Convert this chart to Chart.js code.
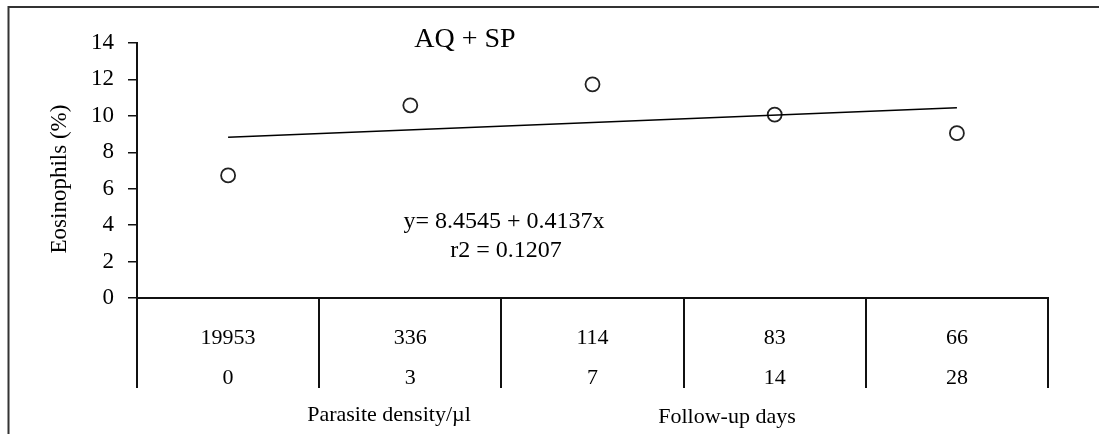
<!DOCTYPE html>
<html>
<head>
<meta charset="utf-8">
<script src="https://cdn.jsdelivr.net/npm/chart.js@4"></script>
<style>
  html, body { margin: 0; padding: 0; background: #fff; }
  #wrap { width: 1099px; height: 434px; }
</style>
</head>
<body>
<div id="wrap"><canvas id="chart"></canvas></div>
<script>
// table rows under the axis
const parasiteDensity = ['19953', '336', '114', '83', '66'];
const followUpDays = ['0', '3', '7', '14', '28'];

// eosinophils (%) per visit
const eosinophils = [6.73, 10.58, 11.73, 10.07, 9.05];

// regression line, read at first and last visit
const trendLine = [8.83, null, null, null, 10.45];

const yTicks = [0, 2, 4, 6, 8, 10, 12, 14];

const FONT = '"Liberation Serif", "Times New Roman", serif';

const labels = parasiteDensity.map((d, i) => [d, followUpDays[i]]);

// frame and free texts
const textPlugin = {
    id: 'texts',
    beforeDraw(chart) {
        const ctx = chart.ctx;
        ctx.save();
        ctx.strokeStyle = '#333';
        ctx.lineWidth = 2;
        ctx.beginPath();
        ctx.moveTo(8.5, 434);
        ctx.lineTo(8.5, 7);
        ctx.lineTo(1099, 7);
        ctx.stroke();
        ctx.restore();
    },
    afterDraw(chart) {
        const ctx = chart.ctx;
        ctx.save();
        ctx.fillStyle = '#000';
        ctx.textAlign = 'center';
        ctx.textBaseline = 'middle';

        ctx.font = '28px ' + FONT;
        ctx.fillText('AQ + SP', 465, 40);

        ctx.font = '24px ' + FONT;
        ctx.fillText('y= 8.4545 + 0.4137x', 504, 222);
        ctx.fillText('r2 = 0.1207', 506, 251);

        ctx.font = '22px ' + FONT;
        ctx.fillText('Parasite density/\u00b5l', 389, 415);
        ctx.fillText('Follow-up days', 727, 417);

        ctx.font = '23px ' + FONT;
        ctx.translate(60, 179);
        ctx.rotate(-Math.PI / 2);
        ctx.fillText('Eosinophils (%)', 0, 0);
        ctx.restore();
    }
};

new Chart(document.getElementById('chart'), {
    type: 'line',
    data: {
        labels: labels,
        datasets: [
            {
                label: 'trend',
                data: trendLine,
                spanGaps: true,
                borderColor: '#000',
                borderWidth: 1.5,
                pointRadius: 0,
                fill: false
            },
            {
                label: 'Eosinophils',
                data: eosinophils,
                showLine: false,
                pointRadius: 7,
                pointBorderWidth: 1.8,
                pointBorderColor: '#222',
                pointBackgroundColor: '#fff'
            }
        ]
    },
    options: {
        responsive: true,
        maintainAspectRatio: false,
        animation: false,
        layout: { padding: { top: 43, right: 51, left: 0, bottom: 0 } },
        plugins: {
            legend: { display: false },
            tooltip: { enabled: false }
        },
        scales: {
            x: {
                type: 'category',
                offset: true,
                afterFit(scale) { scale.height = 136; },
                border: { display: true, color: '#111', width: 2 },
                grid: {
                    offset: true,
                    drawOnChartArea: false,
                    drawTicks: true,
                    tickLength: 90,
                    color: '#111',
                    lineWidth: 2
                },
                ticks: {
                    autoSkip: false,
                    maxRotation: 0,
                    color: '#000',
                    padding: -70,
                    font: { family: FONT, size: 22, lineHeight: '40px' }
                }
            },
            y: {
                min: 0,
                max: 14,
                afterFit(scale) { scale.width = 137; },
                afterBuildTicks(scale) { scale.ticks = yTicks.map(v => ({ value: v })); },
                border: { display: true, color: '#111', width: 2 },
                grid: {
                    drawOnChartArea: false,
                    drawTicks: true,
                    tickLength: 9,
                    color: '#111',
                    lineWidth: 1.5
                },
                ticks: {
                    color: '#000',
                    padding: 14,
                    font: { family: FONT, size: 23 }
                }
            }
        }
    },
    plugins: [textPlugin]
});
</script>
</body>
</html>
